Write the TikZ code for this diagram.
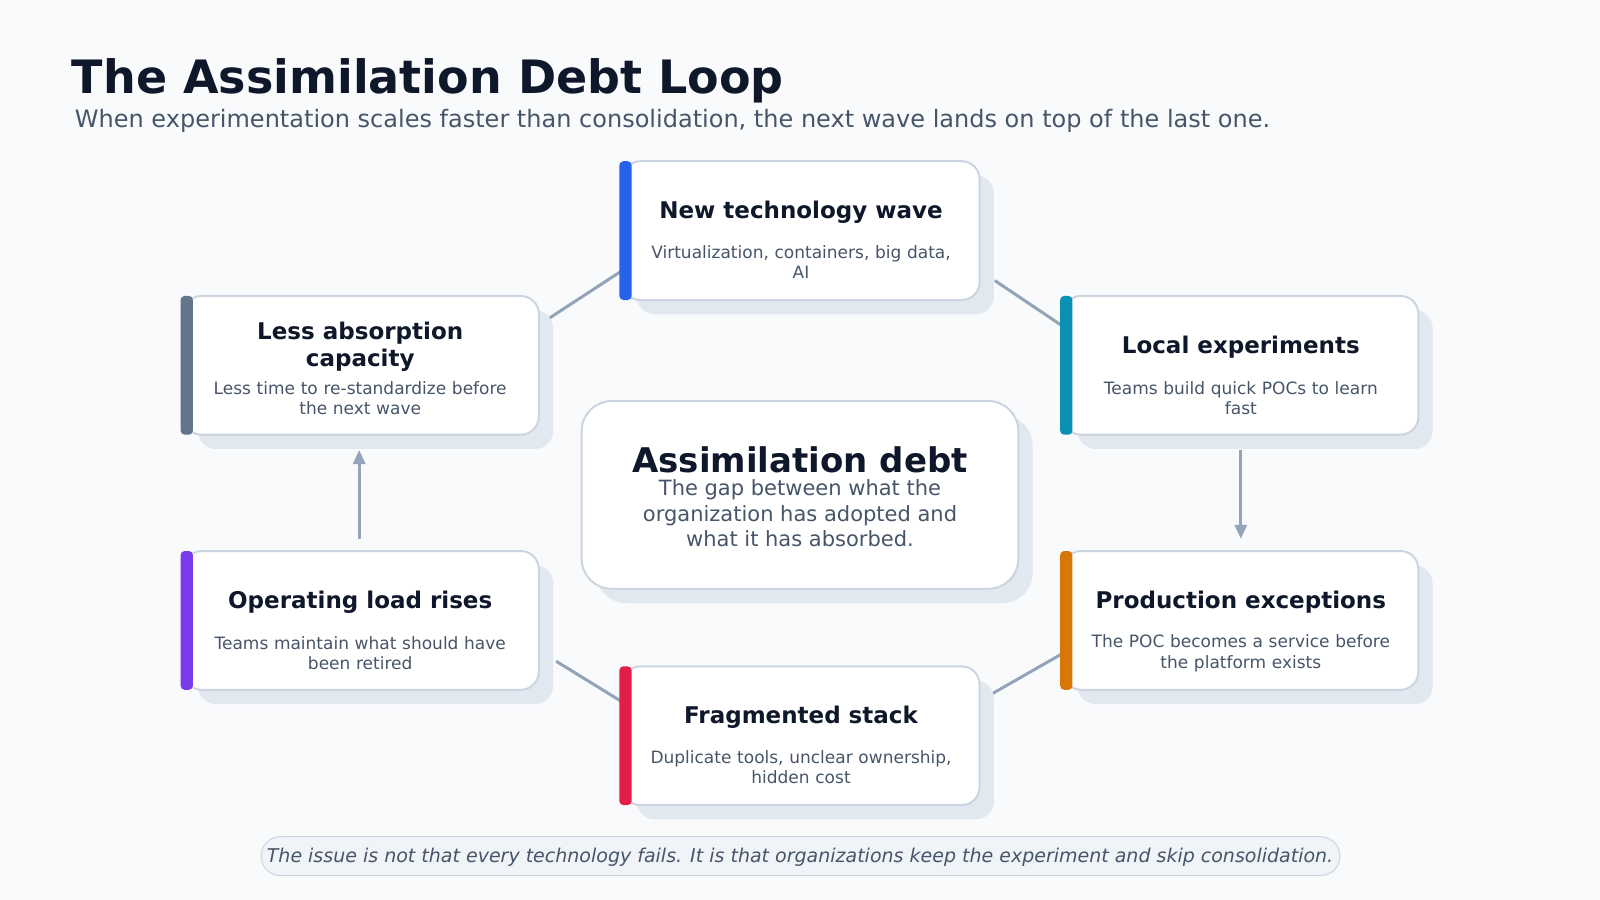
\documentclass[tikz,border=0pt]{standalone}
\usepackage{fontspec}
\setmainfont{DejaVu Sans}
\usetikzlibrary{arrows.meta}
\definecolor{bg}{HTML}{F8FAFC}
\definecolor{ink}{HTML}{0F172A}
\definecolor{sub}{HTML}{475569}
\definecolor{bord}{HTML}{CBD5E1}
\definecolor{shad}{HTML}{E2E8F0}
\definecolor{conn}{HTML}{94A3B8}
\definecolor{cblue}{HTML}{2563EB}
\definecolor{cslate}{HTML}{64748B}
\definecolor{cteal}{HTML}{0891B2}
\definecolor{cpurp}{HTML}{7C3AED}
\definecolor{corange}{HTML}{D97706}
\definecolor{cred}{HTML}{E11D48}
\tikzset{
 conline/.style={draw=conn,line width=3pt},
 conarrow/.style={conline,-{Triangle[length=14pt,width=12pt]}},
}
\newcommand{\card}[7]{% name x1 y1 x2 y2 color title/desc
 \fill[shad,rounded corners=18pt] (#2+14,#3+14) rectangle (#4+14,#5+14);
 \draw[bord,fill=white,line width=2pt,rounded corners=18pt] (#2,#3) rectangle (#4,#5);
 \fill[#6,rounded corners=4pt] (#2-3,#3) rectangle (#2+9,#5);
 \node[coordinate] (#1) at ({(#2+#4)/2},{(#3+#5)/2}) {};
 #7
}
\begin{document}
\begin{tikzpicture}[x=1.0204pt,y=-1.0204pt]
\fill[bg] (0,0) rectangle (1568,882);
\useasboundingbox (0,0) rectangle (1568,882);
\node[anchor=base west,text=ink,font=\fontsize{46}{54}\selectfont\bfseries] (title) at (67,92) {The Assimilation Debt Loop};
\node[anchor=base west,text=sub,font=\fontsize{24}{28}\selectfont] (subt) at (70,125) {When experimentation scales faster than consolidation, the next wave lands on top of the last one.};
% connectors first
\coordinate (c1a) at (610,265); \coordinate (c1b) at (538,312);
\coordinate (c2a) at (975,275); \coordinate (c2b) at (1042,320);
\coordinate (c3a) at (1216,441); \coordinate (c3b) at (1216,528);
\coordinate (c4a) at (1042,640); \coordinate (c4b) at (972,680);
\coordinate (c5a) at (610,688); \coordinate (c5b) at (545,648);
\coordinate (c6a) at (352,528); \coordinate (c6b) at (352,441);
\draw[conline] (c1a) -- (c1b);
\draw[conline] (c2a) -- (c2b);
\draw[conarrow] (c3a) -- (c3b);
\draw[conline] (c4a) -- (c4b);
\draw[conline] (c5a) -- (c5b);
\draw[conarrow] (c6a) -- (c6b);
\tikzset{ttl/.style={text=ink,font=\fontsize{23}{27}\selectfont\bfseries,align=center},
 dsc/.style={text=sub,font=\fontsize{17}{20.5}\selectfont,align=center,text width=330pt}}
\card{new}{610}{158}{960}{294}{cblue}{\node[ttl] (newt) at (785,208) {New technology wave};
 \node[dsc] (newd) at (785,257) {Virtualization, containers, big data,\\AI};}
\card{less}{180}{290}{528}{426}{cslate}{\node[ttl] (lesst) at (353,340) {Less absorption\\capacity};
 \node[dsc] (lessd) at (353,390) {Less time to re-standardize before\\the next wave};}
\card{local}{1042}{290}{1390}{426}{cteal}{\node[ttl] (localt) at (1216,340) {Local experiments};
 \node[dsc] (locald) at (1216,390) {Teams build quick POCs to learn\\fast};}
\card{op}{180}{540}{528}{676}{cpurp}{\node[ttl] (opt) at (353,590) {Operating load rises};
 \node[dsc] (opd) at (353,640) {Teams maintain what should have\\been retired};}
\card{prod}{1042}{540}{1390}{676}{corange}{\node[ttl] (prodt) at (1216,590) {Production exceptions};
 \node[dsc] (prodd) at (1216,640) {The POC becomes a service before\\the platform exists};}
\card{frag}{610}{653}{960}{789}{cred}{\node[ttl] (fragt) at (785,703) {Fragmented stack};
 \node[dsc] (fragd) at (785,752) {Duplicate tools, unclear ownership,\\hidden cost};}
% center
\fill[shad,rounded corners=30pt] (584,407) rectangle (1012,591);
\draw[bord,fill=white,line width=2pt,rounded corners=30pt] (570,393) rectangle (998,577);
\node[text=ink,font=\fontsize{34}{40}\selectfont\bfseries] (ct) at (784,451) {Assimilation debt};
\node[text=sub,font=\fontsize{21}{25.5}\selectfont,align=center] (cd) at (784,503) {The gap between what the\\organization has adopted and\\what it has absorbed.};
% footer
\draw[bord,fill=shad!50,line width=1pt,rounded corners=19pt] (256,820) rectangle (1313,858);
\node[text=sub,font=\fontsize{19}{23}\selectfont\itshape] (foot) at (784,840) {The issue is not that every technology fails. It is that organizations keep the experiment and skip consolidation.};
\end{tikzpicture}
\end{document}
